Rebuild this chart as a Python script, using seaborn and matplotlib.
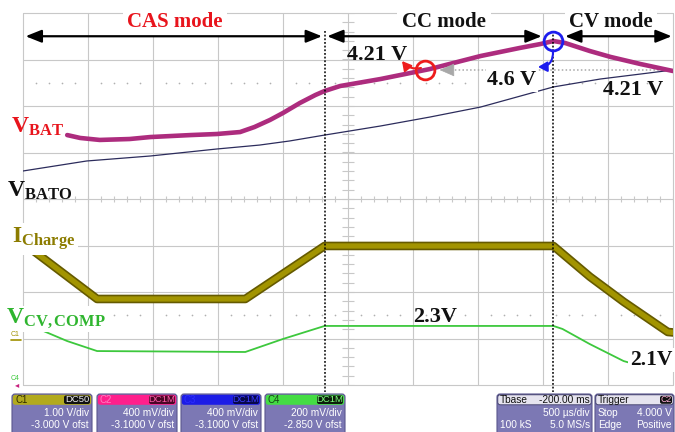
import numpy as np
import matplotlib
matplotlib.use('Agg')
import matplotlib.pyplot as plt
import seaborn as sns
from matplotlib.patches import FancyBboxPatch

# ---------------- data (time in ms: 500 us/div, 10 div) ----------------
t_vbat = [0.34, 0.44, 0.59, 0.82, 0.98, 1.29, 1.49, 1.67, 1.78, 1.90, 2.00, 2.13,
          2.25, 2.32, 2.44, 2.75, 3.13, 3.52, 3.82, 3.98, 4.08, 4.17, 4.36, 4.52,
          4.75, 5.00]
v_bat = [3.650, 3.625, 3.608, 3.616, 3.633, 3.650, 3.659, 3.676, 3.719, 3.780,
         3.840, 3.926, 3.995, 4.029, 4.072, 4.132, 4.218, 4.330, 4.399, 4.433,
         4.459, 4.442, 4.373, 4.322, 4.261, 4.201]

t_vbato = [0.00, 0.49, 0.98, 1.49, 1.82, 2.05, 2.32, 2.75, 3.13, 3.52, 4.08, 4.44, 4.75, 5.00]
v_bato = [3.341, 3.427, 3.470, 3.530, 3.564, 3.599, 3.650, 3.728, 3.805, 3.891,
          4.064, 4.132, 4.175, 4.210]

t_ichg = [0.05, 0.57, 1.71, 2.32, 4.08, 4.36, 4.62, 4.96, 5.00]
i_chg = [1.95, 0.85, 0.85, 1.99, 1.99, 1.33, 0.79, 0.14, 0.13]

t_vcv = [0.04, 0.34, 0.57, 1.71, 2.00, 2.32, 4.08, 4.15, 4.36, 4.62, 4.86, 5.00]
v_cv = [2.310, 2.239, 2.196, 2.192, 2.248, 2.304, 2.304, 2.291, 2.226, 2.153, 2.115, 2.110]

mode_names = ['CAS mode', 'CC mode', 'CV mode']
mode_bounds = [2.32, 4.08]          # ms
v_ref = 4.21                        # V, CV reference level
t_span = 5.0                        # ms (10 div x 0.5 ms)

# scope channel settings
ch_names = ['C1', 'C2', 'C3', 'C4']
ch_scale = [1.0, 0.4, 0.4, 0.2]     # V/div
ch_offset = [-3.0, -3.1, -3.1, -2.85]
ch_coupling = ['DC50', 'DC1M', 'DC1M', 'DC1M']
ch_vdiv_text = ['1.00 V/div', '400 mV/div', '400 mV/div', '200 mV/div']
ch_ofst_text = ['-3.000 V ofst', '-3.1000 V ofst', '-3.1000 V ofst', '-2.850 V ofst']

# ---------------- styling ----------------
sns.set_theme(style='white')
plt.rcParams['font.family'] = ['Liberation Serif', 'DejaVu Serif']
plt.rcParams['mathtext.fontset'] = 'custom'
plt.rcParams['mathtext.rm'] = 'Liberation Serif'
plt.rcParams['mathtext.bf'] = 'Liberation Serif:bold'
plt.rcParams['mathtext.it'] = 'Liberation Serif:italic'

W, H = 675, 432
fig = plt.figure(figsize=(W / 100, H / 100), dpi=100)
fig.patch.set_facecolor('white')
rect = [23 / W, (H - 385) / H, 650 / W, 372 / H]

# grid axes (divisions)
ax = fig.add_axes(rect, zorder=1)
ax.set_xlim(0, t_span)
ax.set_ylim(-4, 4)
ax.axis('off')
gc = '#c8c8c8'
for k in range(11):
    ax.axvline(k * t_span / 10, color=gc, lw=0.8, clip_on=False)
for k in range(9):
    ax.axhline(k - 4, color=gc, lw=0.8, clip_on=False)
xm = np.arange(0, t_span + 1e-9, t_span / 50)
ax.vlines(xm, -0.07, 0.07, color=gc, lw=0.8)
ym = np.arange(-4, 4.0001, 0.2)
ax.hlines(ym, t_span / 2 - 0.045, t_span / 2 + 0.045, color=gc, lw=0.8)
xd = [x for i, x in enumerate(xm) if i % 5 != 0]
for yy in (2.5, -2.5):
    ax.scatter(xd, [yy] * len(xd), s=1.5, color='#b0b0b0', lw=0)


def chan_ax(i, z):
    a = fig.add_axes(rect, zorder=z)
    a.set_facecolor('none')
    return a


def finish(a, i):
    c = -ch_offset[i]
    a.set_xlim(0, t_span)
    a.set_ylim(c - 4 * ch_scale[i], c + 4 * ch_scale[i])
    a.axis('off')


# C1: charge current
a1 = chan_ax(0, 2)
sns.lineplot(x=t_ichg, y=i_chg, ax=a1, color='#655a00', lw=6.2, sort=False,
             estimator=None, legend=False)
sns.lineplot(x=t_ichg, y=i_chg, ax=a1, color='#a29400', lw=3.8, sort=False,
             estimator=None, legend=False)
finish(a1, 0)

# C4: V_CV,COMP
a4 = chan_ax(3, 3)
sns.lineplot(x=t_vcv, y=v_cv, ax=a4, color='#3dc83d', lw=1.3, sort=False,
             estimator=None, legend=False)
finish(a4, 3)

# C3: V_BATO
a3 = chan_ax(2, 4)
sns.lineplot(x=t_vbato, y=v_bato, ax=a3, color='#2c2c5c', lw=0.9, sort=False,
             estimator=None, legend=False)
finish(a3, 2)

# C2: V_BAT
a2 = chan_ax(1, 5)
ipk = int(np.argmax(v_bat))
t_red = float(np.interp(v_ref, v_bat[:ipk + 1], t_vbat[:ipk + 1]))
a2.plot([t_red + 0.2, t_span], [v_ref, v_ref], ls=(0, (1, 1.5)), color='#a8a8a8', lw=1.1)
a2.annotate('', xy=(t_red + 0.11, v_ref), xytext=(t_red + 0.21, v_ref),
            arrowprops=dict(arrowstyle='-|>,head_length=0.8,head_width=0.35',
                            color='#a8a8a8', lw=0.5, shrinkA=0, shrinkB=0))
sns.lineplot(x=t_vbat, y=v_bat, ax=a2, color='#ad2c7e', lw=3.3, sort=False,
             estimator=None, legend=False)
finish(a2, 1)

# ---------------- overlay (pixel coordinates) ----------------
ov = fig.add_axes([0, 0, 1, 1], zorder=10)
ov.set_facecolor('none')

serif_b = dict(family=['Liberation Serif', 'DejaVu Serif'], weight='bold')

# mode arrows + boundaries
y_arr = 3.5
segs = [(0.02, mode_bounds[0] - 0.02),
        (mode_bounds[0] + 0.02, mode_bounds[1] - 0.09),
        (mode_bounds[1] + 0.09, t_span - 0.01)]
for x0, x1 in segs:
    ov.annotate('', xy=(x1, y_arr), xytext=(x0, y_arr), xycoords=ax.transData,
                textcoords=ax.transData, annotation_clip=False, zorder=6,
                arrowprops=dict(arrowstyle='<|-|>,head_length=0.8,head_width=0.32',
                                color='black', lw=1.6, shrinkA=0, shrinkB=0))
for b in mode_bounds:
    ov.plot([b, b], [3.62, -4.15], transform=ax.transData, ls=(0, (1.2, 1.2)),
            color='black', lw=1.1, zorder=4)

mode_x = [175, 444, 611]
mode_col = ['#e8141c', '#111111', '#111111']
for name, x, c in zip(mode_names, mode_x, mode_col):
    ov.text(x, 27, name, ha='center', va='baseline', fontsize=15, color=c, zorder=5,
            bbox=dict(boxstyle='square,pad=0.22', fc='white', ec='none'), **serif_b)

# circles on V_BAT
ov.plot([t_red], [v_ref], transform=a2.transData, marker='o', ms=13.5, mfc='none',
        mec='#ee1c1c', mew=2.0, zorder=7)
ov.plot([t_vbat[ipk]], [v_bat[ipk]], transform=a2.transData, marker='o', ms=13.5,
        mfc='none', mec='#1c1cee', mew=2.0, zorder=7)
ov.annotate('', xy=(402, 61), xytext=(421, 68),
            arrowprops=dict(arrowstyle='-|>,head_length=0.45,head_width=0.25',
                            color='#ee1c1c', lw=1.5, shrinkA=0, shrinkB=0,
                            connectionstyle='arc3,rad=-0.3'), zorder=7)
ov.annotate('', xy=(538, 67), xytext=(553, 51),
            arrowprops=dict(arrowstyle='-|>,head_length=0.45,head_width=0.25',
                            color='#1c1cee', lw=1.5, shrinkA=0, shrinkB=0,
                            connectionstyle='arc3,rad=-0.5'), zorder=7)

# value labels
ov.text(377, 60, '4.21 V', ha='center', va='baseline', fontsize=16, color='#111111', **serif_b)
ov.text(512, 85, '4.6 V', ha='center', va='baseline', fontsize=16, color='#111111',
        bbox=dict(boxstyle='square,pad=0.08', fc='white', ec='none'), **serif_b)
ov.text(633, 95, '4.21 V', ha='center', va='baseline', fontsize=16, color='#111111', **serif_b)
ov.text(435, 322, '2.3V', ha='center', va='baseline', fontsize=16, color='#111111', **serif_b)
ov.text(630, 365, '2.1V', ha='left', va='baseline', fontsize=15.5, color='#111111',
        bbox=dict(boxstyle='square,pad=0.1', fc='white', ec='none'), **serif_b)

# trace labels
ov.text(11, 133, r'$\mathbf{V_{BAT}}$', ha='left', va='baseline', fontsize=17, color='#e8141c')
ov.text(7, 197, r'$\mathbf{V_{BATO}}$', ha='left', va='baseline', fontsize=17, color='#111111')
ov.text(12, 243, r'$\mathbf{I_{Charge}}$', ha='left', va='baseline', fontsize=17, color='#8c7c00',
        bbox=dict(boxstyle='square,pad=0.1', fc='white', ec='none'))
ov.text(6, 323, r'$\mathbf{V_{CV,COMP}}$', ha='left', va='baseline', fontsize=17, color='#2fb52f',
        bbox=dict(boxstyle='square,pad=0.05', fc='white', ec='none'))

# small channel markers at left
sans = dict(family=['Liberation Sans', 'DejaVu Sans'])
ov.text(11, 336, 'C1', fontsize=5, color='#a09000', va='baseline', **sans)
ov.plot([11, 21], [340, 340], color='#a09000', lw=1.2)
ov.text(11, 380, 'C4', fontsize=5, color='#3dc83d', va='baseline', **sans)
ov.text(15, 387, '\u25c2', fontsize=6, color='#c8207e', va='baseline', **sans)

# ---------------- bottom info panel ----------------
body_c = '#7c78b4'
hdr_cols = ['#b2aa1e', '#ff1f8c', '#1c1ce6', '#44dc44']
name_cols = ['#2e2a00', '#ff7cc0', '#2e2eff', '#174417']
pill_cols = ['#111111', '#4a0626', '#08084a', '#0c1e0c']
pill_txt = ['#f0f0f0', '#ff5aa8', '#3a3aff', '#7cff7c']
box_x = [12, 97, 181, 265]
bw = 80
for i in range(4):
    x0 = box_x[i]
    ov.add_patch(FancyBboxPatch((x0, 394), bw, 45, boxstyle='round,pad=0,rounding_size=3',
                                fc=body_c, ec='#5a568e', lw=0.8, zorder=2))
    ov.add_patch(FancyBboxPatch((x0 + 0.8, 394.8), bw - 1.6, 10,
                                boxstyle='round,pad=0,rounding_size=2.5',
                                fc=hdr_cols[i], ec='none', zorder=3))
    ov.text(x0 + 3, 400, ch_names[i], ha='left', va='center', fontsize=7,
            color=name_cols[i], zorder=4, **sans)
    ov.add_patch(FancyBboxPatch((x0 + bw - 28, 395.5), 26, 8.5,
                                boxstyle='round,pad=0,rounding_size=2',
                                fc=pill_cols[i], ec='none', zorder=4))
    ov.text(x0 + bw - 15, 400, ch_coupling[i], ha='center', va='center', fontsize=6.8,
            color=pill_txt[i], zorder=5, **sans)
    ov.text(x0 + bw - 3, 412.5, ch_vdiv_text[i], ha='right', va='center', fontsize=7.3,
            color='white', zorder=4, **sans)
    ov.text(x0 + bw - 3, 425, ch_ofst_text[i], ha='right', va='center', fontsize=7.3,
            color='white', zorder=4, **sans)

info = [
    (497, 95, 'Tbase', '-200.00 ms', None, ('', '500 \u00b5s/div'), ('100 kS', '5.0 MS/s')),
    (595, 79, 'Trigger', None, 'C2', ('Stop', '4.000 V'), ('Edge', 'Positive')),
]
for x0, w, title, rtitle, pill, l1, l2 in info:
    ov.add_patch(FancyBboxPatch((x0, 394), w, 45, boxstyle='round,pad=0,rounding_size=3',
                                fc=body_c, ec='#5a568e', lw=0.8, zorder=2))
    ov.add_patch(FancyBboxPatch((x0 + 0.8, 394.8), w - 1.6, 10,
                                boxstyle='round,pad=0,rounding_size=2.5',
                                fc='#e6e4ef', ec='#3c3a66', lw=0.6, zorder=3))
    ov.text(x0 + 3, 400, title, ha='left', va='center', fontsize=7.3, color='#111111',
            zorder=4, **sans)
    if rtitle:
        ov.text(x0 + w - 2, 400, rtitle, ha='right', va='center', fontsize=7.3,
                color='#111111', zorder=4, **sans)
    if pill:
        ov.add_patch(FancyBboxPatch((x0 + w - 14, 395.8), 12, 8,
                                    boxstyle='round,pad=0,rounding_size=2',
                                    fc='#111111', ec='none', zorder=4))
        ov.text(x0 + w - 8, 400, pill, ha='center', va='center', fontsize=6.3,
                color='#ffb0d8', zorder=5, **sans)
    for (lt, rt), yy in ((l1, 412.5), (l2, 425)):
        if lt:
            ov.text(x0 + 3, yy, lt, ha='left', va='center', fontsize=7.3, color='white',
                    zorder=4, **sans)
        ov.text(x0 + w - 2, yy, rt, ha='right', va='center', fontsize=7.3, color='white',
                zorder=4, **sans)

ov.set_xlim(0, W)
ov.set_ylim(H, 0)
ov.axis('off')

fig.savefig('out.png', dpi=100, facecolor='white')
